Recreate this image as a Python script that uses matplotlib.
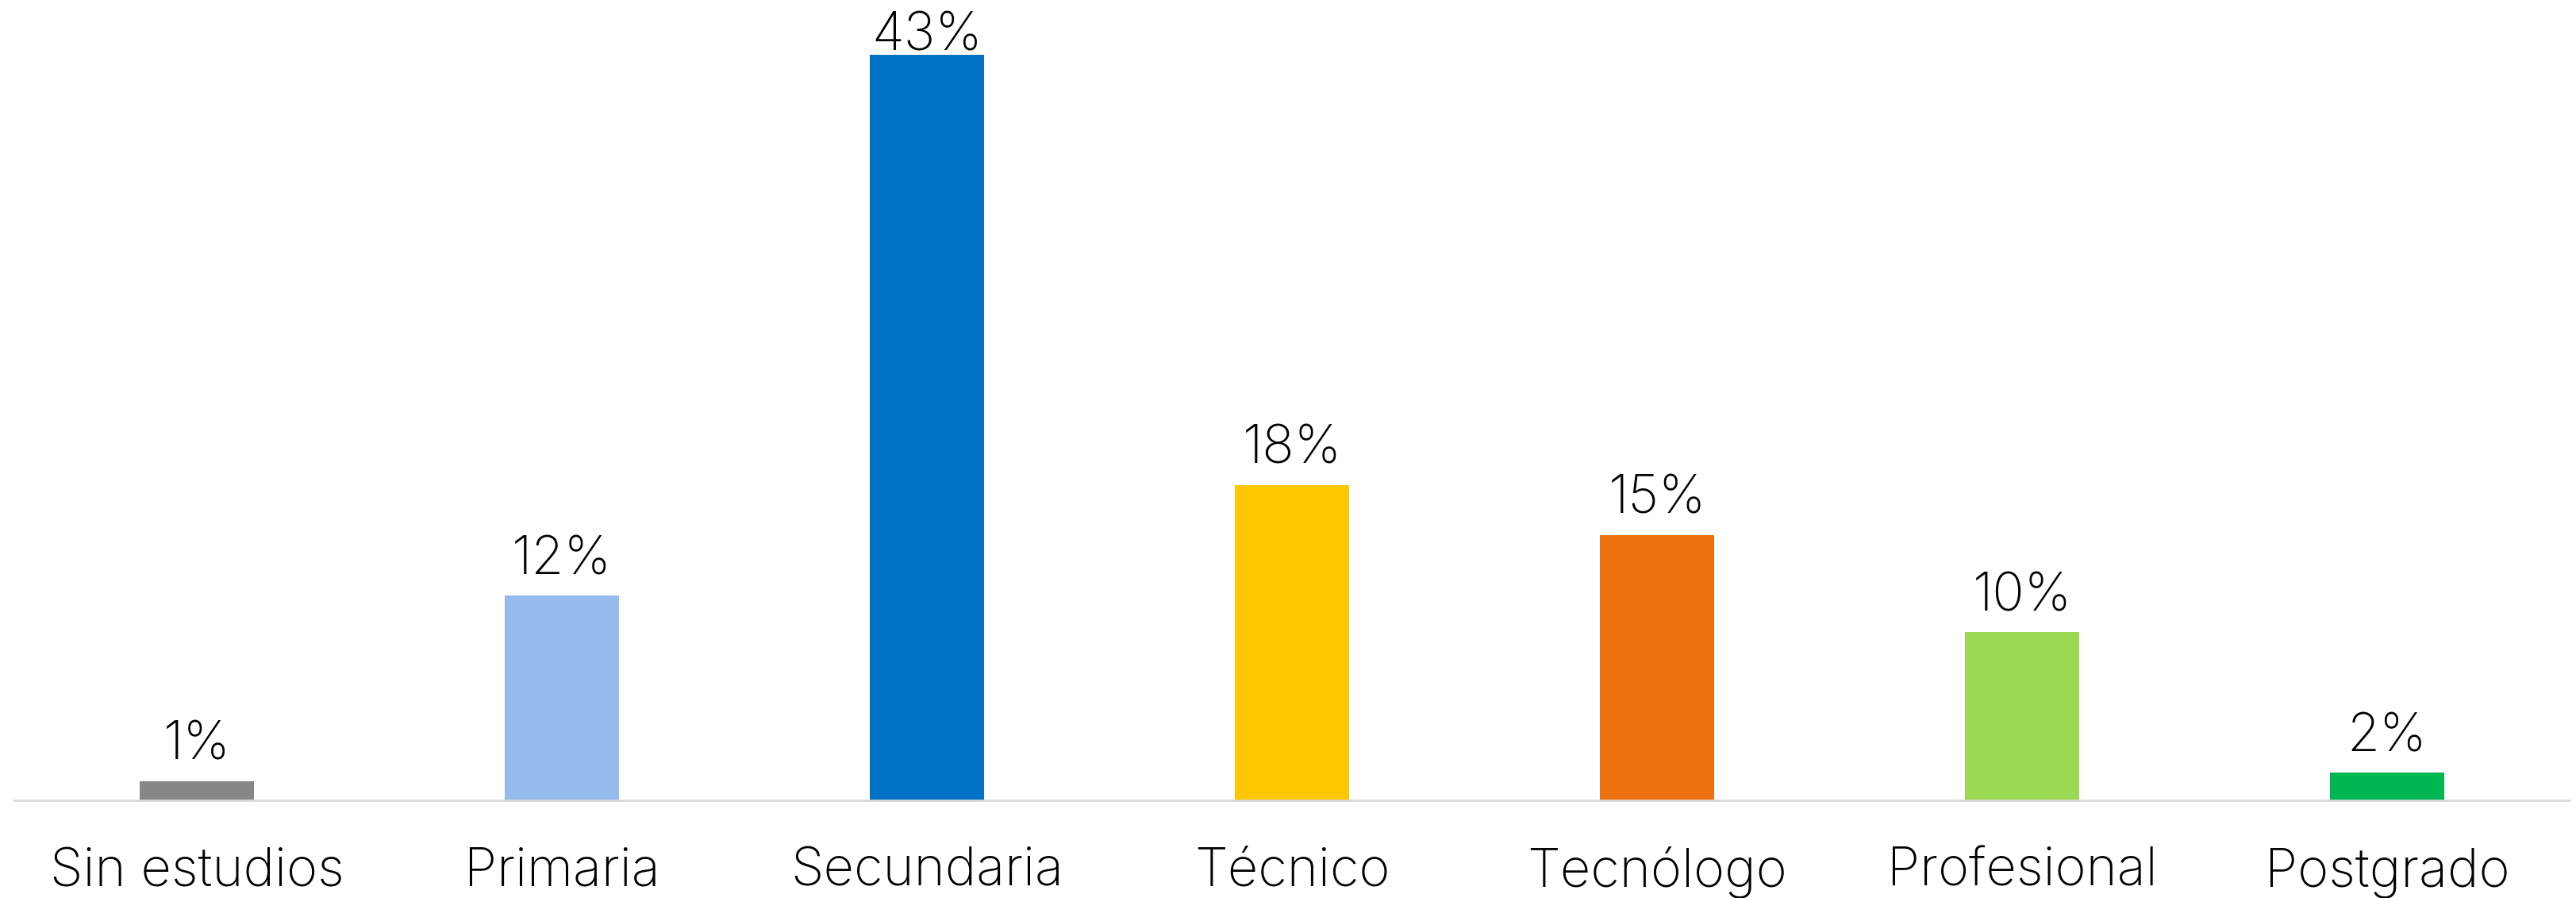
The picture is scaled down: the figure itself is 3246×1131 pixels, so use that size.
import matplotlib
matplotlib.use("Agg")
import matplotlib.pyplot as plt

categories = ["Sin estudios", "Primaria", "Secundaria", "Técnico", "Tecnólogo", "Profesional", "Postgrado"]
values = [1.1, 11.8, 43.0, 18.2, 15.3, 9.7, 1.6]
colors = ["#878787", "#95BAEC", "#0072C6", "#FFC700", "#EE7110", "#9BD955", "#00B652"]

plt.rcParams['font.family'] = ['Inter', 'DejaVu Sans']

W, H, DPI = 3246, 1131, 100
fig = plt.figure(figsize=(W / DPI, H / DPI), dpi=DPI)
left_px, right_px, base_px = 18, 3238, 1008
ax = fig.add_axes([left_px / W, (H - base_px) / H, (right_px - left_px) / W, base_px / H])

px_per_unit = 21.84
ymax = base_px / px_per_unit
ax.set_xlim(-0.5, len(categories) - 0.5)
ax.set_ylim(0, ymax)

x = list(range(len(categories)))
ax.bar(x, values, width=0.315, color=colors, zorder=2)

label_gap = 27 / px_per_unit
label_cap = ymax - 63 / px_per_unit
for xi, v in zip(x, values):
    ax.text(xi, min(v + label_gap, label_cap), f"{v:.0f}%", ha="center", va="baseline",
            fontsize=48, fontweight="light", color="black")

for xi, c in zip(x, categories):
    ax.text(xi, -108 / base_px, c, transform=ax.get_xaxis_transform(), ha="center",
            va="baseline", fontsize=48, fontweight="light", color="black")

for s in ["top", "right", "left"]:
    ax.spines[s].set_visible(False)
ax.spines["bottom"].set_color("#D9D9D9")
ax.spines["bottom"].set_linewidth(2)
ax.set_xticks([])
ax.set_yticks([])

fig.savefig("out.png", dpi=DPI)
